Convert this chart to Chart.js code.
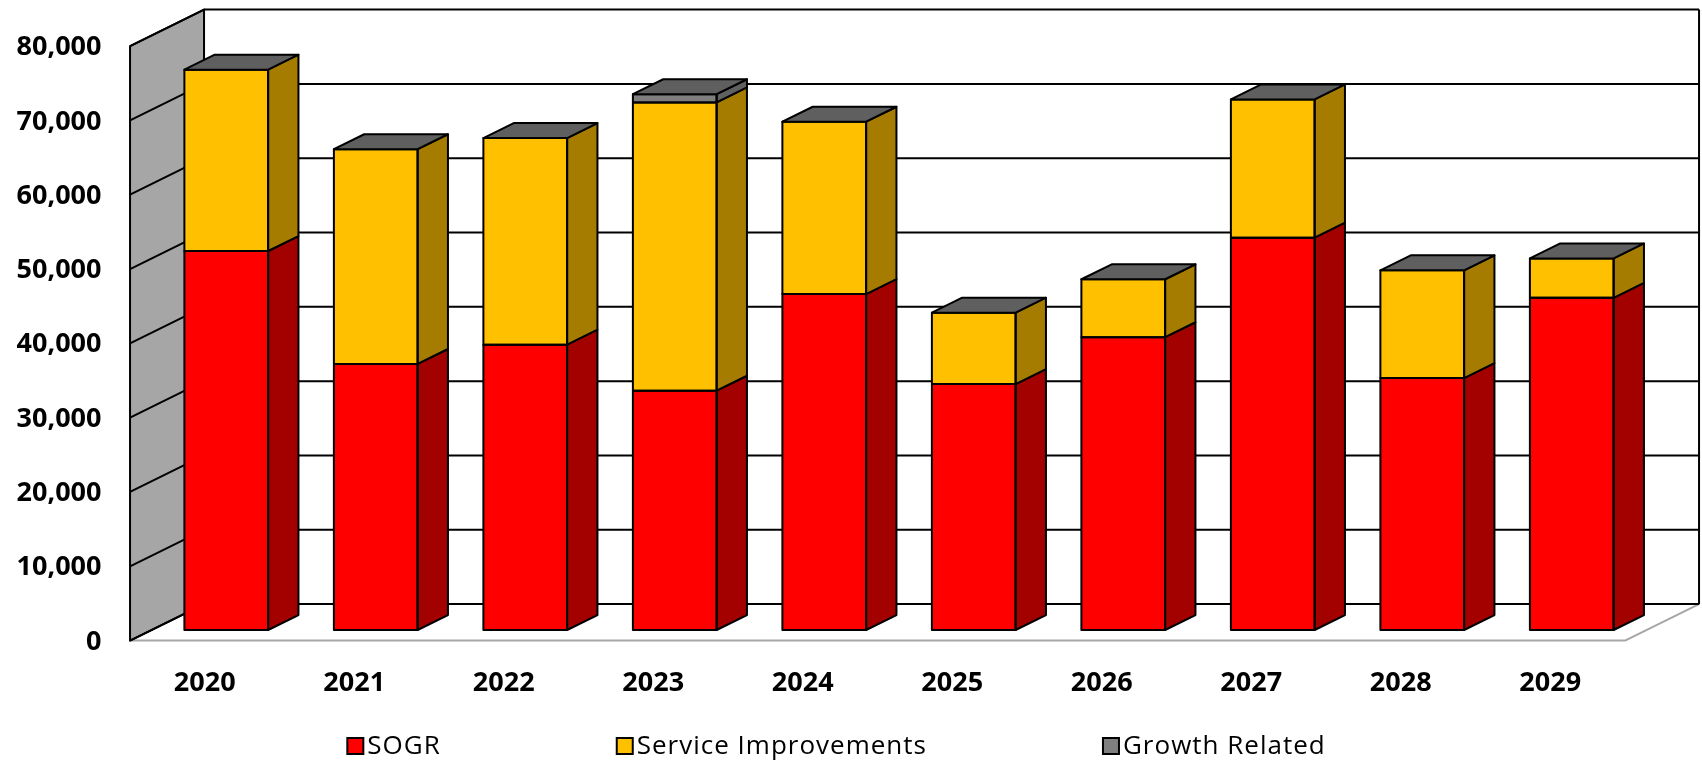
<!DOCTYPE html>
<html>
<head>
<meta charset="utf-8">
<script src="https://cdn.jsdelivr.net/npm/chart.js@4.4.1/dist/chart.umd.min.js"></script>
<style>
  html, body { margin: 0; padding: 0; background: #fff; }
  #wrap { width: 1702px; height: 761px; }
</style>
</head>
<body>
<div id="wrap"><canvas id="chart"></canvas></div>
<script>
// --- Data ---
const years = ['2020', '2021', '2022', '2023', '2024', '2025', '2026', '2027', '2028', '2029'];
const sogr = [51000, 35800, 38400, 32200, 45200, 33100, 39400, 52800, 33900, 44700];
const serviceImprovements = [24400, 28900, 27800, 38800, 23200, 9600, 7800, 18600, 14500, 5300];
const growthRelated = [0, 0, 0, 1100, 0, 0, 0, 0, 0, 0];
const yTicks = [0, 10000, 20000, 30000, 40000, 50000, 60000, 70000, 80000];

// --- 3D look ---
// full depth of the floor, and where the bars sit inside it
const DEPTH = { x: 74, y: -36.5 };
const FRONT = -0.29;     // front wall edge, relative to the bar front plane
const BACK = 0.71;       // back wall
const BAR_DEPTH = 0.41;  // how deep each bar is

const sideColors = ['#a30000', '#a67c00', '#606060'];
const topColor = '#5f5f5f';

function pt(x, y, f) {
    return [x + DEPTH.x * f, y + DEPTH.y * f];
}

function poly(ctx, pts, fill, stroke, lw) {
    ctx.beginPath();
    ctx.moveTo(pts[0][0], pts[0][1]);
    for (let i = 1; i < pts.length; i++) ctx.lineTo(pts[i][0], pts[i][1]);
    ctx.closePath();
    if (fill) { ctx.fillStyle = fill; ctx.fill(); }
    if (stroke) { ctx.strokeStyle = stroke; ctx.lineWidth = lw || 2; ctx.stroke(); }
}

const box3d = {
    id: 'box3d',
    beforeDatasetsDraw(chart) {
        const ctx = chart.ctx;
        const a = chart.chartArea;
        const ys = chart.scales.y;
        const y0 = ys.getPixelForValue(yTicks[0]);
        const yTop = ys.getPixelForValue(yTicks[yTicks.length - 1]);

        ctx.save();
        ctx.lineJoin = 'round';

        // floor (grey edges)
        poly(ctx, [pt(a.left, y0, FRONT), pt(a.right, y0, FRONT), pt(a.right, y0, BACK), pt(a.left, y0, BACK)],
            '#fff', '#a6a6a6', 2);

        // left side wall
        poly(ctx, [pt(a.left, yTop, FRONT), pt(a.left, yTop, BACK), pt(a.left, y0, BACK), pt(a.left, y0, FRONT)],
            '#a6a6a6', '#000', 2);

        // grid lines: across the side wall and along the back wall
        ctx.strokeStyle = '#000';
        ctx.lineWidth = 2;
        yTicks.forEach(v => {
            const y = ys.getPixelForValue(v);
            const p1 = pt(a.left, y, FRONT), p2 = pt(a.left, y, BACK), p3 = pt(a.right, y, BACK);
            ctx.beginPath();
            ctx.moveTo(p1[0], p1[1]);
            ctx.lineTo(p2[0], p2[1]);
            ctx.lineTo(p3[0], p3[1]);
            ctx.stroke();
        });

        // right edge of the back wall
        const r1 = pt(a.right, yTop, BACK), r2 = pt(a.right, y0, BACK);
        ctx.beginPath();
        ctx.moveTo(r1[0], r1[1]);
        ctx.lineTo(r2[0], r2[1]);
        ctx.stroke();
        ctx.restore();
    },
    afterDatasetsDraw(chart) {
        const ctx = chart.ctx;
        const dx = DEPTH.x * BAR_DEPTH, dy = DEPTH.y * BAR_DEPTH;
        ctx.save();
        ctx.lineJoin = 'round';
        const metas = chart.data.datasets.map((d, i) => chart.getDatasetMeta(i));

        metas.forEach((meta, di) => {
            meta.data.forEach((el, i) => {
                const value = chart.data.datasets[di].data[i];
                if (!value) return;
                const l = el.x - el.width / 2, r = el.x + el.width / 2;
                const top = Math.min(el.y, el.base), bot = Math.max(el.y, el.base);
                // right side face
                poly(ctx, [[r, top], [r + dx, top + dy], [r + dx, bot + dy], [r, bot]], sideColors[di], '#000', 2);
                // outline of the front face
                ctx.strokeStyle = '#000';
                ctx.lineWidth = 2;
                ctx.strokeRect(l, top, r - l, bot - top);
            });
        });

        // top face sits on the last series (even when it is zero)
        const last = metas[metas.length - 1];
        last.data.forEach(el => {
            const l = el.x - el.width / 2, r = el.x + el.width / 2;
            const top = Math.min(el.y, el.base);
            poly(ctx, [[l, top], [l + dx, top + dy], [r + dx, top + dy], [r, top]], topColor, '#000', 2);
        });
        ctx.restore();
    },
    afterDraw(chart) {
        // legend, spread out like the original
        const ctx = chart.ctx;
        const gap = 175, box = 16, textGap = 21;
        const centerX = 836, y = 746;
        ctx.save();
        ctx.font = '26px "Open Sans"';
        ctx.letterSpacing = '1px';
        ctx.textBaseline = 'middle';
        const items = chart.data.datasets.map(d => ({
            label: d.label, color: d.backgroundColor, w: textGap + ctx.measureText(d.label).width
        }));
        const total = items.reduce((s, it) => s + it.w, 0) + gap * (items.length - 1);
        let x = centerX - total / 2;
        items.forEach(it => {
            ctx.fillStyle = it.color;
            ctx.fillRect(x + 1, y - box / 2, box, box);
            ctx.strokeStyle = '#000';
            ctx.lineWidth = 2;
            ctx.strokeRect(x + 1, y - box / 2, box, box);
            ctx.fillStyle = '#000';
            ctx.fillText(it.label, x + textGap, y + 1);
            x += it.w + gap;
        });
        ctx.restore();
    }
};

new Chart(document.getElementById('chart'), {
    type: 'bar',
    data: {
        labels: years,
        datasets: [
            { label: 'SOGR', data: sogr, backgroundColor: '#ff0000' },
            { label: 'Service Improvements', data: serviceImprovements, backgroundColor: '#ffc000' },
            { label: 'Growth Related', data: growthRelated, backgroundColor: '#7f7f7f' }
        ]
    },
    options: {
        responsive: true,
        maintainAspectRatio: false,
        animation: false,
        events: [],
        categoryPercentage: 0.8,
        barPercentage: 0.7,
        borderWidth: 0,
        layout: { padding: { left: 0, right: 55.5, top: 35.5, bottom: 0 } },
        plugins: {
            legend: { display: false },
            tooltip: { enabled: false }
        },
        scales: {
            x: {
                stacked: true,
                grid: { display: false, drawTicks: false },
                border: { display: false },
                ticks: {
                    color: '#000',
                    font: { family: '"Open Sans"', size: 27, weight: 'bold' },
                    padding: 37,
                    labelOffset: -21.5
                },
                afterFit(scale) {
                    scale.height = 131;
                    scale.paddingLeft = 0;
                    scale.paddingRight = 0;
                }
            },
            y: {
                stacked: true,
                min: yTicks[0],
                max: yTicks[yTicks.length - 1],
                grid: { display: false, drawTicks: false },
                border: { display: false },
                ticks: {
                    color: '#000',
                    font: { family: '"Open Sans"', size: 27, weight: 'bold' },
                    padding: 50,
                    labelOffset: 12,
                    callback: v => v.toLocaleString('en-US')
                },
                afterBuildTicks(scale) { scale.ticks = yTicks.map(v => ({ value: v })); },
                afterFit(scale) {
                    scale.width = 151.5;
                    scale.paddingTop = 0;
                    scale.paddingBottom = 0;
                }
            }
        }
    },
    plugins: [box3d]
});
</script>
</body>
</html>
